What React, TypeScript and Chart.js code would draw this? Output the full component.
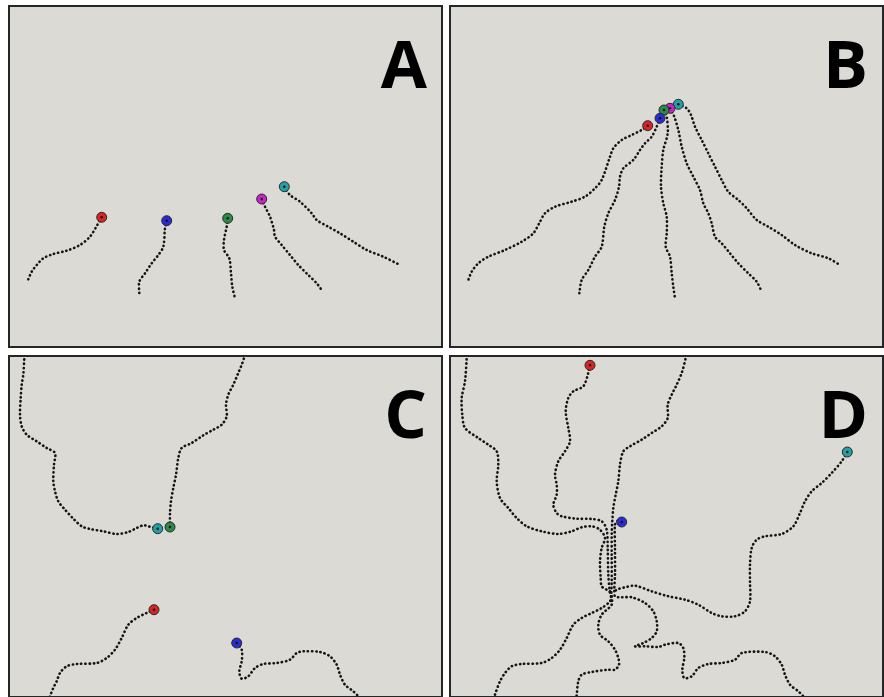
import React, { useEffect, useRef } from "react";
import { Chart, registerables } from "chart.js";

Chart.register(...registerables);

type Pt = [number, number];

// ---- Panel A (tracks start at their coloured end-marker) ----
const A_red: Pt[] = [[93.7,212.3],[89.3,220],[82,231.7],[72,240],[58.7,245.7],[45.3,249],[35.3,253.3],[28.7,260],[23.7,266.7],[20.3,274.3]];
const A_blue: Pt[] = [[158.7,215.7],[157,223.3],[155.3,241.7],[150.3,250],[143.7,258.3],[137,268.3],[131.3,276.7],[131.3,288.3]];
const A_green: Pt[] = [[219.7,213.3],[218.7,221.7],[216,235],[216,245],[221.3,253.3],[223,268.3],[224.3,281.7],[227,293.3]];
const A_magenta: Pt[] = [[253.7,194],[257,201.7],[262,211.7],[266,225],[267,231.7],[273.7,240],[282,250],[290.3,260],[300.3,270],[308.7,278.3],[313.7,285]];
const A_cyan: Pt[] = [[276.3,181.7],[282,190],[292,196.7],[303.7,208.3],[308.7,215],[320.3,221.7],[332,228.3],[345.3,236.7],[358.7,245],[375.3,251.7],[392,260]];

// ---- Panel B ----
const B_red: Pt[] = [[198.7,120.7],[192.7,125],[182.7,130],[172.7,135],[164.3,143.3],[161,151.7],[152.7,175],[146,183.3],[136,191.7],[122.7,196.7],[106,201.7],[96,208.3],[91,216.7],[84.3,228.3],[72.7,236.7],[56,245],[39.3,251.7],[29.3,258.3],[22.7,266.7],[19.3,275]];
const B_blue: Pt[] = [[211,113.3],[207.7,121.7],[202.7,131.7],[196,138.3],[191,145],[184.3,155],[174.3,163.3],[171,171.7],[170,181.7],[166,195],[159.3,208.3],[155.3,221.7],[152.7,241.7],[146,251.7],[139.3,265],[132.7,275],[130.3,288.3]];
const B_green: Pt[] = [[215,105],[217.7,111.7],[218.7,128.3],[214.3,145],[212.7,161.7],[212,181.7],[214.3,198.3],[217.7,211.7],[217.7,228.3],[216.7,241.7],[221,251.7],[222.7,268.3],[224.3,281.7],[226,293.3]];
const B_magenta: Pt[] = [[221,103.3],[225.3,111.7],[229.3,125],[232.7,141.7],[237.7,158.3],[244.3,171.7],[251,185],[254.3,198.3],[259.3,208.3],[262.7,218.3],[266,231.7],[272.7,238.3],[281,248.3],[289.3,258.3],[299.3,268.3],[307.7,276.7],[312.7,286.7]];
const B_cyan: Pt[] = [[229.3,99.3],[237.7,103.3],[242,110],[246,121.7],[252.7,135],[259.3,148.3],[266,161.7],[272.7,175],[279.3,186.7],[289.3,195],[297.7,203.3],[307.7,215],[319.3,221.7],[332.7,230],[346,240],[362.7,248.3],[379.3,253.3],[391,260]];

// ---- Panel C ----
const C_cyan: Pt[] = [[149.7,173.7],[140.3,171.3],[135.3,170.3],[128.7,173],[120.3,177],[108.7,179],[95.3,176.3],[82,174],[73.7,171.3],[65.3,163.7],[57,154.7],[50.3,146.3],[47,136.3],[45.3,126.3],[46,109.7],[47,98],[38.7,93],[28.7,86.3],[18.7,79.7],[13.7,71.3],[12,59.7],[12.7,43],[13.7,29.7],[15.3,19.7],[16.3,3],[16.7,-4]];
const C_green: Pt[] = [[162,172],[162,158],[163,146.3],[165.3,133],[168,119.7],[170.3,103],[173.7,93],[183.7,88],[195.3,80.3],[205.3,74.7],[213.7,69.7],[218.7,61.3],[218,49.7],[220.3,39.7],[225.3,29.7],[230.3,18],[233.7,9.7],[236,3],[237,-4]];
const C_red: Pt[] = [[146,254.7],[138.7,258],[128.7,263],[120.3,269.7],[113.7,283],[107,294.7],[98.7,303],[88.7,308],[68.7,309],[58.7,311.3],[52,318],[48.7,326.3],[45.3,333],[42,341.3],[40.3,348]];
const C_blue: Pt[] = [[228.7,288],[233.7,294.7],[233.7,306.3],[231.3,316.3],[233.7,323.7],[240.3,321.3],[247,313],[255.3,309],[268.7,308],[282,304.7],[288.7,298],[295.3,296.3],[312,297],[322,301.3],[328.7,309.7],[332,319.7],[337,329.7],[345.3,336.3],[350.3,341.3],[355.3,348]];

// ---- Panel D ----
const D_red: Pt[] = [[141,10.3],[139.3,18],[134.3,31.3],[124.3,36.3],[119.3,43],[116.7,56.3],[119.3,73],[121,86.3],[116,96.3],[109.3,106.3],[106,119.7],[107.7,129.7],[107.7,139.7],[104.3,149.7],[107.7,158],[112.7,161.3],[127.7,163.7],[142.7,164],[152.7,166.3],[157.7,174.7],[158.7,193],[159.3,219.7],[161,239.7]];
const D_blue: Pt[] = [[172.7,167],[168.7,165.7],[166,169.7],[166,193],[166,219.7],[165.3,234.7],[166,241.3],[172.7,242.3],[182.7,242.3],[196,248],[204.3,256.3],[207.7,266.3],[207.7,276.3],[202.7,283],[194.3,288],[186,291.3],[196,291.3],[209.3,292],[216,289.7],[229.3,288],[234.3,293],[235.3,303],[233.3,314.7],[235.3,323],[242.7,321.3],[249.3,313],[259.3,309],[272.7,308],[286,304.7],[292.7,298],[316,297],[326,301.3],[332.7,309.7],[336,319.7],[341,329.7],[349.3,336.3],[354.3,341.3],[359.3,348]];
const D_cyan: Pt[] = [[398.3,97],[392.7,106.3],[382.7,118],[372.7,128],[362.7,136.3],[356,146.3],[351,158],[344.3,171.3],[332.7,179],[316,181.3],[307.7,184.7],[302.7,193],[301,209.7],[301,226.3],[301,246.3],[296,256.3],[286,261.3],[272.7,261.3],[262.7,258],[249.3,249.7],[236,244.7],[219.3,241.3],[202.7,236.3],[186,230.7],[176,232.3],[167.7,234.7],[164.3,238]];
const D_left: Pt[] = [[18,-4],[17.7,3],[16,26.3],[12.7,43],[13.3,59.7],[16,73],[29.3,83],[39.3,89.7],[47.7,96.3],[49.3,109.7],[47.7,126.3],[51,143],[59.3,153],[67.7,163],[77.7,171.3],[92.7,176.3],[109.3,179],[122.7,176.3],[132.7,172.3],[142.7,171.3],[151,174.7],[156,183],[152.7,193],[151,206.3],[151.7,223],[152.7,231.3],[157.7,234.7],[161,236.3]];
const D_top: Pt[] = [[237.7,-4],[236.7,3],[232.7,18],[227.7,29.7],[222.7,39.7],[218.7,49.7],[218.7,63],[212.7,71.3],[202.7,78],[192.7,84.7],[181,91.3],[174.3,96.3],[171,109.7],[169.3,126.3],[166.7,139.7],[164.3,153],[163.3,166.3],[162.7,179.7],[162.7,199.7],[162.7,226.3],[162,246.3]];
const D_downLeft: Pt[] = [[162,241.3],[161,246.3],[152.7,253],[142.7,258],[132.7,263],[124.3,269.7],[117.7,283],[111,294.7],[102.7,303],[92.7,308],[72.7,309],[62.7,311.3],[56,318],[51,326.3],[46,339.7],[44.3,348]];
const D_downMid: Pt[] = [[162.7,241.3],[162.7,249.7],[152.7,259.7],[149.3,269.7],[151,279.7],[159.3,286.3],[166,294.7],[169.3,303],[170,309.7],[166,314.7],[159.3,314.7],[142.7,317],[132.7,319.7],[129.3,326.3],[127.7,339.7],[126.7,348]];

const RED = "#d82424";
const BLUE = "#2b2bd4";
const GREEN = "#2a8a48";
const MAGENTA = "#c624c6";
const CYAN = "#22a0a4";

interface Track { points: Pt[]; marker: string | null; }
interface PanelSpec { label: string; left: number; top: number; width: number; height: number; tracks: Track[]; }

const PANELS: PanelSpec[] = [
  { label: "A", left: 8, top: 5, width: 435, height: 343, tracks: [
    { points: A_red, marker: RED }, { points: A_blue, marker: BLUE }, { points: A_green, marker: GREEN },
    { points: A_magenta, marker: MAGENTA }, { points: A_cyan, marker: CYAN } ] },
  { label: "B", left: 449, top: 5, width: 435, height: 343, tracks: [
    { points: B_red, marker: RED }, { points: B_blue, marker: BLUE }, { points: B_green, marker: GREEN },
    { points: B_magenta, marker: MAGENTA }, { points: B_cyan, marker: CYAN } ] },
  { label: "C", left: 8, top: 355, width: 435, height: 343, tracks: [
    { points: C_cyan, marker: CYAN }, { points: C_green, marker: GREEN },
    { points: C_red, marker: RED }, { points: C_blue, marker: BLUE } ] },
  { label: "D", left: 449, top: 355, width: 435, height: 343, tracks: [
    { points: D_left, marker: null }, { points: D_top, marker: null },
    { points: D_downLeft, marker: null }, { points: D_downMid, marker: null },
    { points: D_red, marker: RED }, { points: D_blue, marker: BLUE }, { points: D_cyan, marker: CYAN } ] },
];

const panelPlugin = {
  id: "panelDecor",
  beforeDraw(chart: any) {
    const { ctx, width, height } = chart;
    ctx.save();
    ctx.fillStyle = "#dcdad5";
    ctx.fillRect(0, 0, width, height);
    ctx.restore();
  },
  afterDraw(chart: any, _args: any, opts: any) {
    const { ctx, width, height } = chart;
    ctx.save();
    ctx.strokeStyle = "#262626";
    ctx.lineWidth = 2;
    ctx.strokeRect(1, 1, width - 2, height - 2);
    ctx.fillStyle = "#000";
    ctx.font = 'bold 67px "Open Sans"';
    ctx.textAlign = "right";
    ctx.textBaseline = "alphabetic";
    ctx.fillText(opts.label, width - 16, 83);
    ctx.restore();
  },
};

function Panel({ spec }: { spec: PanelSpec }) {
  const ref = useRef<HTMLCanvasElement | null>(null);
  useEffect(() => {
    if (!ref.current) return;
    const datasets: any[] = [];
    const markerTracks = spec.tracks.filter((t) => t.marker);
    // centre dots of end markers (topmost)
    datasets.push({
      data: markerTracks.map((t) => ({ x: t.points[0][0], y: t.points[0][1] })),
      showLine: false,
      pointRadius: 1.2,
      pointBackgroundColor: "#111",
      pointBorderWidth: 0,
      order: -1,
    });
    markerTracks.forEach((t) => {
      datasets.push({
        data: [{ x: t.points[0][0], y: t.points[0][1] }],
        showLine: false,
        pointRadius: 5,
        pointBackgroundColor: t.marker,
        pointBorderColor: "#2a2a2a",
        pointBorderWidth: 1,
        order: 0,
      });
    });
    spec.tracks.forEach((t) => {
      datasets.push({
        data: t.points.map((p) => ({ x: p[0], y: p[1] })),
        showLine: true,
        pointRadius: 0,
        borderColor: "#141414",
        borderWidth: 2.6,
        borderDash: [0.3, 3.9],
        borderCapStyle: "round",
        tension: 0.3,
        fill: false,
        order: 1,
      });
    });
    const chart = new Chart(ref.current, {
      type: "scatter",
      data: { datasets },
      options: {
        animation: false,
        responsive: false,
        maintainAspectRatio: false,
        events: [],
        layout: { padding: 0, autoPadding: false },
        scales: {
          x: { type: "linear", min: 0, max: spec.width, display: false },
          y: { type: "linear", min: 0, max: spec.height, reverse: true, display: false },
        },
        plugins: {
          legend: { display: false },
          tooltip: { enabled: false },
          panelDecor: { label: spec.label },
        } as any,
      },
      plugins: [panelPlugin],
    });
    return () => chart.destroy();
  }, [spec]);
  return (
    <canvas
      ref={ref}
      width={spec.width}
      height={spec.height}
      style={{ position: "absolute", left: spec.left, top: spec.top, width: spec.width, height: spec.height }}
    />
  );
}

export default function App() {
  return (
    <div style={{ position: "absolute", left: 0, top: 0, width: 884, height: 697, overflow: "hidden", background: "#fff" }}>
      {PANELS.map((p) => (
        <Panel key={p.label} spec={p} />
      ))}
    </div>
  );
}
